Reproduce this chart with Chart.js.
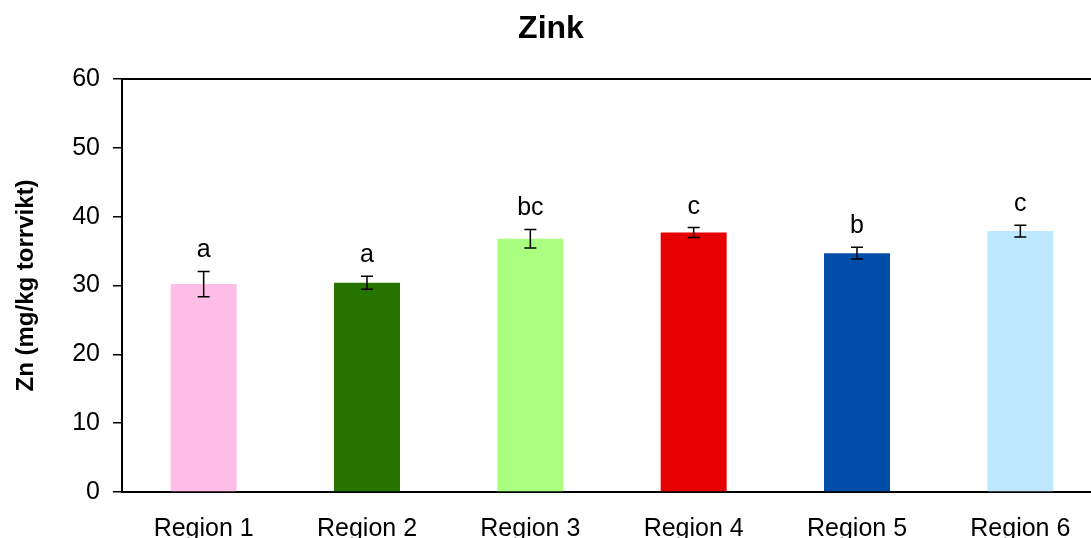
<!DOCTYPE html>
<html>
<head>
<meta charset="utf-8">
<script src="https://cdn.jsdelivr.net/npm/chart.js@4/dist/chart.umd.min.js"></script>
<style>
  html, body { margin: 0; padding: 0; background: #fff; overflow: hidden; }
  #wrap { width: 1130px; height: 538px; }
</style>
</head>
<body>
<div id="wrap"><canvas id="zinkChart" width="1130" height="538"></canvas></div>
<script>
// data
let regions = ['Region 1', 'Region 2', 'Region 3', 'Region 4', 'Region 5', 'Region 6'];
let zinkMean = [30.2, 30.4, 36.8, 37.7, 34.7, 37.9];
let zinkErr = [1.85, 0.95, 1.35, 0.72, 0.85, 0.85];
let groupLetters = ['a', 'a', 'bc', 'c', 'b', 'c'];
let barColors = ['#FFBEE8', '#267300', '#AAFF80', '#E60000', '#004DA8', '#BEE8FF'];
let yTicks = [0, 10, 20, 30, 40, 50, 60];

Chart.defaults.font.family = '"Liberation Sans", Arial, sans-serif';
Chart.defaults.color = '#000';

// error bars, letters and the top frame line
let extras = {
    id: 'extras',
    afterDatasetsDraw(chart) {
        let ctx = chart.ctx;
        let x = chart.scales.x, y = chart.scales.y;
        let area = chart.chartArea;
        ctx.save();
        ctx.strokeStyle = '#000';
        ctx.lineWidth = 2;
        ctx.beginPath();
        ctx.moveTo(area.left, area.top);
        ctx.lineTo(area.right, area.top);
        ctx.stroke();

        ctx.lineWidth = 1.5;
        ctx.fillStyle = '#000';
        ctx.font = '25px "Liberation Sans", Arial, sans-serif';
        ctx.textAlign = 'center';
        ctx.textBaseline = 'alphabetic';
        zinkMean.forEach((m, i) => {
            let cx = x.getPixelForValue(i);
            let top = y.getPixelForValue(m + zinkErr[i]);
            let bot = y.getPixelForValue(m - zinkErr[i]);
            ctx.beginPath();
            ctx.moveTo(cx, top); ctx.lineTo(cx, bot);
            ctx.moveTo(cx - 6, top); ctx.lineTo(cx + 6, top);
            ctx.moveTo(cx - 6, bot); ctx.lineTo(cx + 6, bot);
            ctx.stroke();
            ctx.fillText(groupLetters[i], cx, top - 14);
        });
        ctx.restore();
    }
};

new Chart(document.getElementById('zinkChart'), {
    type: 'bar',
    data: {
        labels: regions,
        datasets: [{
            data: zinkMean,
            backgroundColor: barColors,
            barPercentage: 0.404,
            categoryPercentage: 1
        }]
    },
    options: {
        responsive: false,
        animation: false,
        devicePixelRatio: 1,
        layout: { padding: { left: 0, right: 28, top: 0, bottom: 0 } },
        plugins: {
            legend: { display: false },
            tooltip: { enabled: false },
            title: {
                display: true,
                text: 'Zink',
                font: { size: 32, weight: 'bold', lineHeight: 1.2 },
                color: '#000',
                padding: { top: 10, bottom: 30.6 }
            }
        },
        scales: {
            x: {
                grid: { display: false },
                border: { display: true, color: '#000', width: 2 },
                ticks: { font: { size: 25 }, color: '#000', padding: 14 },
                afterFit: (s) => { s.height = 46; }
            },
            y: {
                min: 0,
                max: 60,
                afterBuildTicks: (s) => { s.ticks = yTicks.map(v => ({ value: v })); },
                grid: { display: true, drawOnChartArea: false, drawTicks: true, tickLength: 9, color: '#000', lineWidth: 1.5 },
                border: { display: true, color: '#000', width: 2 },
                ticks: { font: { size: 25 }, color: '#000', padding: 13 },
                title: {
                    display: true,
                    text: 'Zn (mg/kg torrvikt)',
                    font: { size: 24, weight: 'bold' },
                    color: '#000',
                    padding: { top: 12, bottom: 0 }
                },
                afterFit: (s) => { s.width = 122; }
            }
        }
    },
    plugins: [extras]
});
</script>
</body>
</html>
